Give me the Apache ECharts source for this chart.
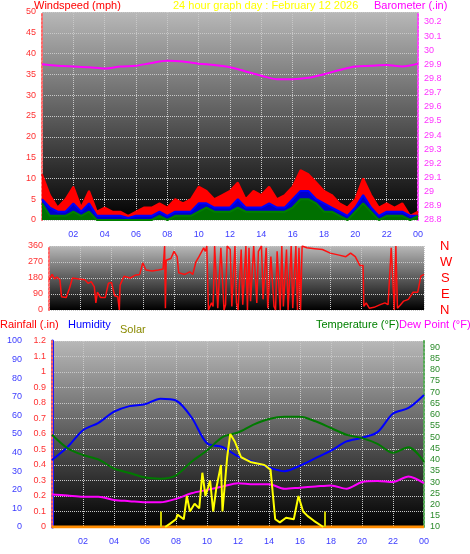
<!DOCTYPE html>
<html><head><meta charset="utf-8">
<script src="https://cdn.jsdelivr.net/npm/echarts@6/dist/echarts.min.js"></script>
<style>html,body{margin:0;padding:0;background:#fff}#c{width:470px;height:554px}</style>
</head><body><div id="c"></div>
<script>
// ---- data ----
const windHours = [0,0.5,1,1.5,2,2.5,3,3.5,4,4.5,5,5.5,6,6.5,7,7.5,8,8.5,9,9.5,10,10.5,11,11.5,12,12.5,13,13.5,14,14.5,15,15.5,16,16.5,17,17.5,18,18.5,19,19.5,20,20.5,21,21.5,22,22.5,23,23.5,24];
const windGust = [11,6,3,5,8,3,7,2,3,2,2,1,2,3,3,4,3,5,4,5,8,7,5,6,7,9,5,7,6,8,5,6,8,12,11,9,7,6,4,3,5,10,6,3,4,3,4,1,2];
const windAvg  = [5,3,2,2,4,2,4,1,1,1,1,0.5,1,1,1,2,1,2,2,2,4,4,3,3,3,5,3,3,3,4,3,3,5,7,7,5,4,3,2,1,3,6,3,1,2,2,2,1,1];
const windMin  = [4,1,1,1,2,1,2,0,0,0,0,0,0,0,0,1,0,1,1,1,2,3,2,2,2,3,2,2,2,2,2,2,3,5,5,4,2,2,1,0,2,4,2,0,1,1,1,0,1];
const hours = [0,1,2,3,4,5,6,7,8,9,10,11,12,13,14,15,16,17,18,19,20,21,22,23,24];
const barometer = [29.9,29.89,29.885,29.88,29.87,29.885,29.89,29.91,29.925,29.92,29.905,29.895,29.88,29.85,29.82,29.795,29.795,29.805,29.83,29.86,29.885,29.89,29.895,29.885,29.905];
const dirHours = [0,0.2,0.35,0.5,0.7,0.8,1.1,1.3,1.5,1.9,2.3,2.5,2.7,2.9,3.0,3.1,3.3,3.6,3.8,4.0,4.2,4.4,4.5,4.55,4.8,5.2,5.5,5.8,6.0,6.2,6.6,7.0,7.3,7.4,7.45,7.5,7.8,8.0,8.2,8.3,8.7,9.0,9.2,9.4,9.6,9.9,10.0,10.1,10.2,10.4,10.5,10.6,10.8,10.9,11.0,11.2,11.3,11.4,11.6,11.7,11.9,12.0,12.1,12.3,12.4,12.6,12.7,12.8,12.9,13.1,13.3,13.4,13.6,13.7,13.9,14.0,14.1,14.2,14.4,14.5,14.6,14.8,14.9,15.0,15.2,15.3,15.5,15.6,15.8,15.9,16.0,16.1,16.2,16.5,17,17.5,18,18.5,19,19.3,19.6,19.9,20.1,20.15,20.3,20.5,20.8,21.2,21.5,21.7,21.9,22.0,22.1,22.2,22.3,22.5,22.7,23.0,23.3,23.6,23.8,24];
const dirDeg = [170,200,175,185,170,75,70,120,180,175,170,150,160,130,40,100,70,70,150,155,80,75,0,140,190,180,195,200,265,225,220,225,230,360,10,280,290,330,300,210,200,215,200,270,300,350,330,360,0,40,20,360,10,0,350,0,30,360,340,20,360,40,0,340,30,360,0,350,50,360,40,330,360,60,350,10,0,300,20,0,330,0,360,20,340,0,360,10,360,0,350,0,360,350,345,340,320,310,300,320,300,250,250,20,40,10,15,30,40,30,350,360,0,360,10,30,50,60,100,100,190,200];
const humidity = [36,43,52,56,62,65,66,69,68,59,45,43,38,35,32,30,33,37,41,46,48,51,61,64,71];
const temperature = [51,45,42,40,36,34,32,31.5,33,39,44,50,52,55.5,58,59,59,57,54,51,49.5,47,43,45.5,39];
const dewPoint = [24.5,24,23.5,23.5,22,21.5,21,21,22.5,25,26.5,28,29.5,29,29,27,27.5,28,28.5,27,30,30.5,30,32.5,29.5];
const solarHours = [7.3,7.6,8.0,8.1,8.5,8.7,8.9,9.2,9.5,9.7,9.9,10.2,10.4,10.6,10.9,11.0,11.3,11.5,11.8,12.2,12.8,13.7,14.1,14.4,14.7,15.1,15.6,15.9,16.2,16.5,16.9,17.5];
const solar = [0,0.02,0.05,0.08,0.05,0.2,0.1,0.15,0.12,0.35,0.2,0.3,0.1,0.25,0.4,0.1,0.45,0.6,0.55,0.45,0.42,0.4,0.37,0.05,0.03,0.06,0.05,0.2,0.1,0.07,0.04,0];
const rainHours = [0,24];
const rainfall = [0,0];
const xTicks = ['02','04','06','08','10','12','14','16','18','20','22','00'];

// ---- build ----
const zip = (a,b)=>a.map((v,i)=>[v,b[i]]);
const bg = {type:'linear',x:0,y:0,x2:0,y2:1,colorStops:[{offset:0,color:'#b8b8b8'},{offset:1,color:'#000'}]};
const gridLine = {show:true,lineStyle:{color:'#c8c8c8',type:'dotted',width:1}};
const fontF = 'Liberation Sans, DejaVu Sans, sans-serif';
const xFmt = v => (v>0 && v%2===0) ? xTicks[v/2-1] : '';
function xAx(gi, showLabels){
  return {type:'value',gridIndex:gi,min:0,max:24,interval:2,axisLine:{show:false},axisTick:{show:false},
    splitLine:gridLine,axisLabel:{show:showLabels,formatter:xFmt,color:'#3b3bff',fontSize:9,fontFamily:fontF,margin:10}};
}
const T = (l,t,s,c)=>({type:'text',left:l,top:t,style:{text:s,fill:c,font:'11px '+fontF}});
const chart = echarts.init(document.getElementById('c'));
chart.setOption({
  animation:false,
  grid:[
    {left:42,right:52,top:12,height:208,show:true,backgroundColor:bg,borderWidth:0},
    {left:49,right:46,top:246,height:64,show:true,backgroundColor:bg,borderWidth:0},
    {left:52,right:46,top:341,height:186,show:true,backgroundColor:bg,borderWidth:0}
  ],
  xAxis:[xAx(0,true),xAx(1,false),xAx(2,true)],
  yAxis:[
    {type:'value',gridIndex:0,min:0,max:50,interval:5,position:'left',splitLine:gridLine,
     axisLine:{show:true,lineStyle:{color:'#ff6666',type:'dotted',width:2}},axisTick:{show:false},
     axisLabel:{color:'#ff3030',fontSize:9,fontFamily:fontF,margin:6}},
    {type:'value',gridIndex:0,min:28.8,max:30.27,interval:0.1,position:'right',splitLine:{show:false},
     axisLine:{show:true,lineStyle:{color:'#ff44ff',type:'dotted',width:2}},axisTick:{show:false},
     axisLabel:{color:'#ff33ff',fontSize:9,fontFamily:fontF,margin:6,formatter:v=>v>30.25?'':(+v.toFixed(1)).toString()}},
    {type:'value',gridIndex:1,min:0,max:360,interval:90,position:'left',splitLine:gridLine,
     axisLine:{show:true,lineStyle:{color:'#ff6666',type:'dotted',width:2}},axisTick:{show:false},
     axisLabel:{color:'#ff3030',fontSize:9,fontFamily:fontF,margin:6}},
    {type:'value',gridIndex:2,min:0,max:100,interval:10,position:'left',offset:22,splitLine:{show:false},
     axisLine:{show:true,lineStyle:{color:'#1a1aff',width:3}},axisTick:{show:false},
     axisLabel:{color:'#3b3bff',fontSize:9,fontFamily:fontF,margin:8}},
    {type:'value',gridIndex:2,min:0,max:1.2,interval:0.1,position:'left',splitLine:gridLine,
     axisLine:{show:true,lineStyle:{color:'#ff6666',type:'dotted',width:2}},axisTick:{show:false},
     axisLabel:{color:'#ff3030',fontSize:9,fontFamily:fontF,margin:6,formatter:v=>(+v.toFixed(1)).toString()}},
    {type:'value',gridIndex:2,min:10,max:92.7,interval:5,position:'right',splitLine:{show:false},
     axisLine:{show:true,lineStyle:{color:'#55aa55',type:'dotted',width:2}},axisTick:{show:false},
     axisLabel:{color:'#2a8a2a',fontSize:9,fontFamily:fontF,margin:6,formatter:v=>v>92?'':v}}
  ],
  graphic:[
    T(34,0,'Windspeed (mph)','#ff0000'),
    T(173,0,'24 hour graph day : February 12 2026','#ffff00'),
    T(374,0,'Barometer (.in)','#ff00ff'),
    {type:'text',left:440,top:240,style:{text:'N',fill:'#ff0000',font:'13px '+fontF}},
    {type:'text',left:440,top:256,style:{text:'W',fill:'#ff0000',font:'13px '+fontF}},
    {type:'text',left:441,top:272,style:{text:'S',fill:'#ff0000',font:'13px '+fontF}},
    {type:'text',left:441,top:288,style:{text:'E',fill:'#ff0000',font:'13px '+fontF}},
    {type:'text',left:440,top:304,style:{text:'N',fill:'#ff0000',font:'13px '+fontF}},
    T(0,319,'Rainfall (.in)','#ff0000'),
    T(68,319,'Humidity','#0000ff'),
    T(120,324,'Solar','#8a8a00'),
    T(316,319,'Temperature (°F)','#008000'),
    T(399,319,'Dew Point (°F)','#ff00ff')
  ],
  series:[
    {type:'line',xAxisIndex:0,yAxisIndex:0,data:zip(windHours,windGust),showSymbol:false,lineStyle:{color:'#ff0000',width:2},areaStyle:{color:'#ff0000',opacity:1}},
    {type:'line',xAxisIndex:0,yAxisIndex:0,data:zip(windHours,windAvg),showSymbol:false,lineStyle:{color:'#0000ff',width:2},areaStyle:{color:'#0000cc',opacity:1}},
    {type:'line',xAxisIndex:0,yAxisIndex:0,data:zip(windHours,windMin),showSymbol:false,lineStyle:{color:'#008000',width:2},areaStyle:{color:'#007000',opacity:1}},
    {type:'line',xAxisIndex:0,yAxisIndex:1,data:zip(hours,barometer),showSymbol:false,smooth:0.3,lineStyle:{color:'#ff00ff',width:2}},
    {type:'line',xAxisIndex:1,yAxisIndex:2,data:zip(dirHours,dirDeg),showSymbol:false,lineStyle:{color:'#ff1010',width:1.5}},
    {type:'line',xAxisIndex:2,yAxisIndex:3,data:zip(hours,humidity),showSymbol:false,smooth:0.3,lineStyle:{color:'#0000ff',width:2}},
    {type:'line',xAxisIndex:2,yAxisIndex:5,data:zip(hours,temperature),showSymbol:false,smooth:0.3,lineStyle:{color:'#007a00',width:2}},
    {type:'line',xAxisIndex:2,yAxisIndex:5,data:zip(hours,dewPoint),showSymbol:false,smooth:0.3,lineStyle:{color:'#ff00ff',width:2}},
    {type:'line',xAxisIndex:2,yAxisIndex:4,data:zip(rainHours,rainfall),showSymbol:false,lineStyle:{color:'#ff8c00',width:3}},
    {type:'line',xAxisIndex:2,yAxisIndex:4,data:zip(solarHours,solar),showSymbol:false,lineStyle:{color:'#ffff00',width:2},
     markLine:{symbol:'none',silent:true,label:{show:false},lineStyle:{color:'#cccc00',type:'solid',width:2},
       data:[[{coord:[7.0,0]},{coord:[7.0,0.1]}],[{coord:[17.6,0]},{coord:[17.6,0.1]}]]}}
  ]
});
</script></body></html>
